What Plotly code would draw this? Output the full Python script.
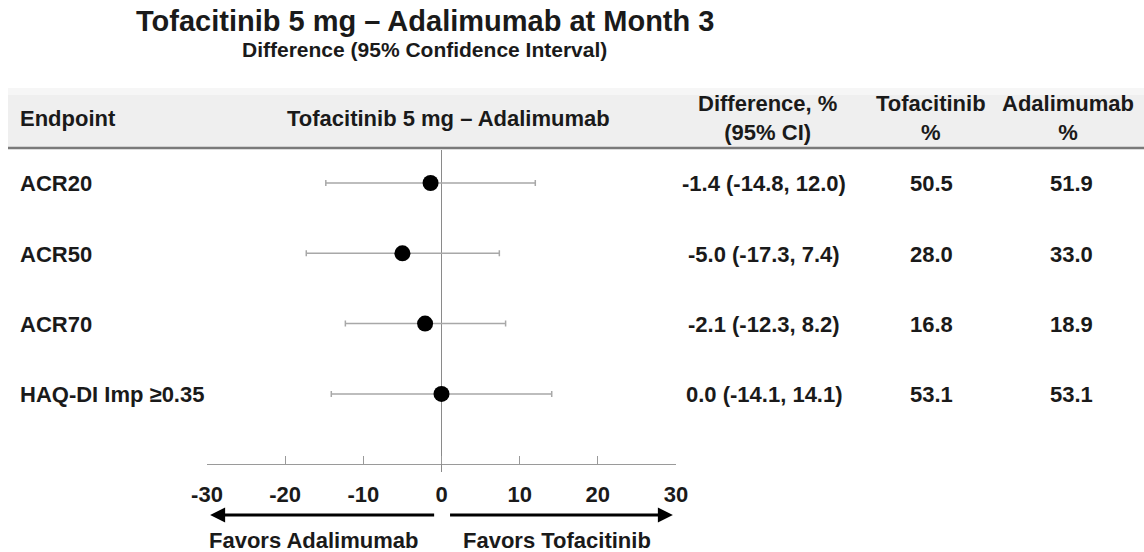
import plotly.graph_objects as go

W, H = 1144, 552

endpoints = ["ACR20", "ACR50", "ACR70", "HAQ-DI Imp ≥0.35"]
diff = [-1.4, -5.0, -2.1, 0.0]
ci_low = [-14.8, -17.3, -12.3, -14.1]
ci_high = [12.0, 7.4, 8.2, 14.1]
tofa_pct = ["50.5", "28.0", "16.8", "53.1"]
ada_pct = ["51.9", "33.0", "18.9", "53.1"]
x_ticks = [-30, -20, -10, 0, 10, 20, 30]

FONT = "Liberation Sans, Arial, sans-serif"
TXT = "#1a1a1a"


def px(x):
    return x / W


def py(y):
    return 1 - y / H


row_y = list(range(len(endpoints)))

fig = go.Figure()
fig.add_trace(go.Scatter(
    x=diff, y=row_y, mode="markers",
    marker=dict(color="black", size=16),
    error_x=dict(type="data", symmetric=False,
                 array=[h - d for h, d in zip(ci_high, diff)],
                 arrayminus=[d - l for d, l in zip(diff, ci_low)],
                 color="#a8a8a8", thickness=1.5, width=3),
    showlegend=False, hoverinfo="skip",
))

# axis geometry (pixels)
x_left, x_right = 207, 676
y_top, y_axis = 150, 464
row0, row_step = 183, 70.3
yr_bottom = (y_axis - row0) / row_step
yr_top = (y_top - row0) / row_step

fig.update_layout(
    template="none",
    width=W, height=H,
    margin=dict(l=0, r=0, t=0, b=0, pad=0, autoexpand=False),
    paper_bgcolor="white", plot_bgcolor="white",
    font=dict(family=FONT, color=TXT),
    xaxis=dict(domain=[px(x_left), px(x_right)], range=[-30, 30],
               tickvals=x_ticks, ticktext=[str(v) for v in x_ticks],
               ticks="inside", ticklen=8, tickcolor="#9a9a9a", tickwidth=1,
               showline=True, linecolor="#9a9a9a", linewidth=1,
               showgrid=False, zeroline=True, zerolinecolor="#8a8a8a",
               zerolinewidth=1, ticklabelstandoff=11, automargin=False,
               tickfont=dict(size=22, family=FONT, color=TXT, weight="bold"),
               fixedrange=True),
    yaxis=dict(domain=[py(y_axis), py(y_top)], range=[yr_bottom, yr_top],
               visible=False, automargin=False, fixedrange=True),
)

shapes = []
# header band
shapes.append(dict(type="rect", xref="paper", yref="paper",
                   x0=px(8), x1=1, y0=py(147), y1=py(88),
                   fillcolor="#efefef", line=dict(width=0), layer="below"))
shapes.append(dict(type="rect", xref="paper", yref="paper",
                   x0=px(8), x1=1, y0=py(95), y1=py(88),
                   fillcolor="#f6f6f6", line=dict(width=0), layer="below"))
shapes.append(dict(type="line", xref="paper", yref="paper",
                   x0=px(8), x1=1, y0=py(148), y1=py(148),
                   line=dict(color="#7a7a7a", width=2.5)))
# zero line extension below axis
shapes.append(dict(type="line", xref="x", yref="paper",
                   x0=0, x1=0, y0=py(472), y1=py(y_axis),
                   line=dict(color="#8a8a8a", width=1)))
fig.update_layout(shapes=shapes)

ann = []


def text(x, y, s, size, anchor="center"):
    ann.append(dict(x=px(x), y=py(y), xref="paper", yref="paper",
                    text=s, showarrow=False, xanchor=anchor, yanchor="middle",
                    font=dict(size=size, family=FONT, color=TXT, weight="bold"),
                    align="center"))


text(425, 21, "Tofacitinib 5 mg – Adalimumab at Month 3", 29)
text(424, 50, "Difference (95% Confidence Interval)", 21)

# header row
FS = 22
text(18, 118, "Endpoint", FS, anchor="left")
text(448, 118, "Tofacitinib 5 mg – Adalimumab", FS)
text(767, 118, "Difference, %<br>(95% CI)", FS)
text(931, 118, "Tofacitinib<br>%", FS)
text(1068, 118, "Adalimumab<br>%", FS)

for i, ep in enumerate(endpoints):
    yy = row0 + i * row_step + 1
    text(18, yy, ep, FS, anchor="left")
    text(764, yy, f"{diff[i]:.1f} ({ci_low[i]:.1f}, {ci_high[i]:.1f})", FS)
    text(931, yy, tofa_pct[i], FS)
    text(1071, yy, ada_pct[i], FS)

# favour arrows
arrow_y = py(515)
ann.append(dict(x=-29.6, y=arrow_y, xref="x", yref="paper",
                ax=-0.75, ay=0, axref="x", ayref="pixel",
                showarrow=True, arrowhead=2, arrowsize=1, arrowwidth=3,
                arrowcolor="black", text=""))
ann.append(dict(x=29.6, y=arrow_y, xref="x", yref="paper",
                ax=0.9, ay=0, axref="x", ayref="pixel",
                showarrow=True, arrowhead=2, arrowsize=1, arrowwidth=3,
                arrowcolor="black", text=""))
text(313, 540, "Favors Adalimumab", FS)
text(557, 540, "Favors Tofacitinib", FS)

fig.update_layout(annotations=ann)

fig.write_html("out.html",
               config={"displayModeBar": False, "staticPlot": True},
               post_script="document.body.style.margin='0';"
                           "document.body.style.overflow='hidden';")
